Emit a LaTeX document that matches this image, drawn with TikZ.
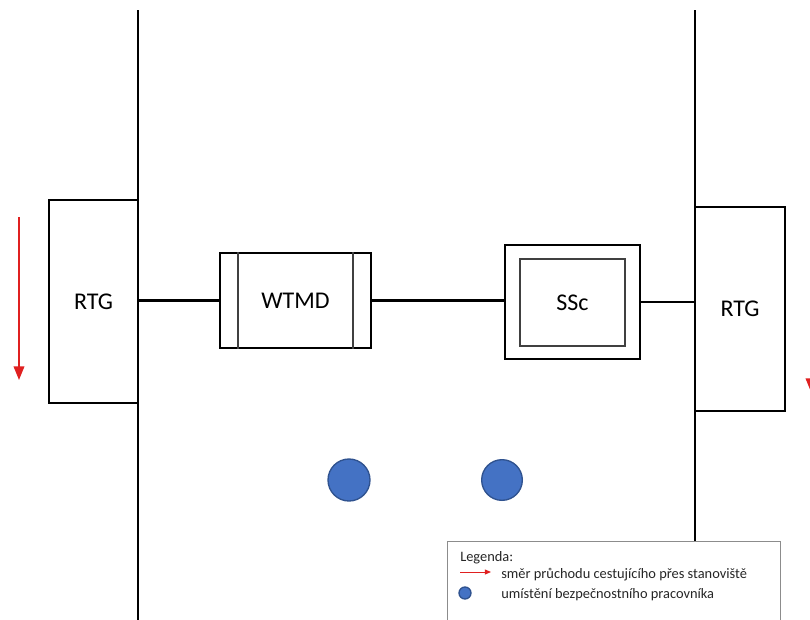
\documentclass[tikz,border=0pt]{standalone}
\usepackage{fontspec}
\setmainfont{Carlito}
\usetikzlibrary{arrows.meta}
\definecolor{flowred}{RGB}{224,32,32}
\definecolor{guardblue}{RGB}{68,114,196}
\definecolor{guardedge}{RGB}{47,82,143}
\tikzset{
  wireline/.style  = {draw=black,line width=1.7pt},
  innerline/.style = {draw=black!75,line width=1.6pt},
  boxnode/.style   = {wireline,fill=white,inner sep=0pt,font=\fontsize{18}{20}\selectfont},
  flowarr/.style   = {-{Triangle[length=3.6mm,width=2.8mm]},flowred,line width=1.2pt},
  guardpt/.style   = {circle,fill=guardblue,draw=guardedge,line width=1pt,inner sep=0pt},
  legendtxt/.style = {anchor=west,inner sep=0pt,font=\fontsize{10.8}{12}\selectfont,black!85}
}

\begin{document}
\begin{tikzpicture}[x=0.75pt,y=-0.75pt]
  \useasboundingbox[fill=white] (0,0) rectangle (810,619);
  % lane walls
  \coordinate (wallLt) at (138,10);
  \coordinate (wallLb) at (138,625);
  \coordinate (wallRt) at (695,10);
  \coordinate (wallRb) at (695,625);
  \draw[wireline] (wallLt) -- (wallLb);
  \draw[wireline] (wallRt) -- (wallRb);
  % checkpoint boxes
  \node[boxnode,minimum width=66.75pt,minimum height=152.25pt] (rtgL) at (93.5,301.5) {RTG};
  \node[boxnode,minimum width=113.25pt,minimum height=71.25pt] (wtmd) at (295.5,300.5) {WTMD};
  \node[boxnode,minimum width=101.25pt,minimum height=85.5pt] (sscO) at (572.5,302) {};
  \node[boxnode,innerline,minimum width=78.75pt,minimum height=65.25pt] (ssc) at (572.5,302.5) {SSc};
  \node[boxnode,minimum width=67.5pt,minimum height=153pt] (rtgR) at (740,309) {RTG};
  \draw[innerline] ([xshift=14.25pt]wtmd.north west) -- ([xshift=14.25pt]wtmd.south west);
  \draw[innerline] ([xshift=-14.25pt]wtmd.north east) -- ([xshift=-14.25pt]wtmd.south east);
  % links
  \draw[wireline] (wtmd.west) -- (wtmd.west -| rtgL.east);
  \draw[wireline] (wtmd.east) -- (wtmd.east -| sscO.west);
  \draw[wireline] (sscO.east) -- (sscO.east -| rtgR.west);
  % passenger flow
  \coordinate (flowLa) at (19,217);
  \coordinate (flowLb) at (19,380);
  \coordinate (flowRa) at (811,232);
  \coordinate (flowRb) at (811,392);
  \draw[flowarr] (flowLa) -- (flowLb);
  \draw[flowarr] (flowRa) -- (flowRb);
  % security staff
  \node[guardpt,minimum size=31.5pt] (guard1) at (349,480) {};
  \node[guardpt,minimum size=30.5pt] (guard2) at (502,480) {};
  % legend
  \draw[black!45,line width=0.6pt,fill=white] (447,541) rectangle (780,640);
  \node[legendtxt] (legTitle) at (460,558) {Legenda:};
  \coordinate (legArrA) at (460,572);
  \coordinate (legArrB) at (491,572);
  \draw[-{Triangle[length=1.6mm,width=1.3mm]},flowred,line width=0.7pt] (legArrA) -- (legArrB);
  \node[legendtxt] (legFlow) at (501,575) {směr průchodu cestujícího přes stanoviště};
  \node[guardpt,minimum size=9pt] (legDot) at (465,593) {};
  \node[legendtxt] (legGuard) at (501,595) {umístění bezpečnostního pracovníka};
\end{tikzpicture}
\end{document}
